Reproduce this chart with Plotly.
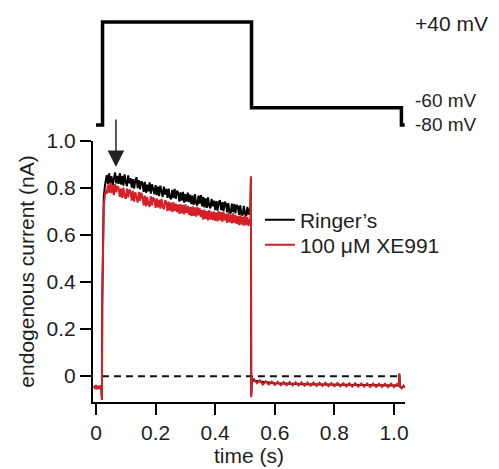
import numpy as np
import plotly.graph_objects as go

# ---------------- data ----------------
# pre-step baseline and onset (s, nA)
pre_t = [-0.006, -0.003, 0.0, 0.003, 0.006, 0.009, 0.012, 0.015, 0.018]
pre_red = [-0.040, -0.055, -0.038, -0.056, -0.042, -0.054, -0.040, -0.052, -0.045]
pre_black = [-0.042, -0.052, -0.040, -0.054, -0.044, -0.052, -0.042, -0.050, -0.046]

rise_t = [0.020, 0.021, 0.023, 0.026, 0.030, 0.033]
rise_red = [-0.100, 0.300, 0.600, 0.720, 0.770, 0.790]
rise_black = [-0.100, 0.320, 0.630, 0.760, 0.810, 0.830]

# plateau during +40 mV step, sampled every 4 ms from 0.036 s
plateau_t = np.round(np.linspace(0.036, 0.516, 121), 4)
plateau_black = [
    0.855, 0.818, 0.862, 0.822, 0.850, 0.812, 0.846, 0.866, 0.820, 0.852,
    0.818, 0.864, 0.815, 0.852, 0.810, 0.858, 0.826, 0.808, 0.854, 0.820,
    0.842, 0.802, 0.838, 0.798, 0.832, 0.846, 0.800, 0.834, 0.794, 0.828,
    0.822, 0.784, 0.826, 0.780, 0.814, 0.786, 0.824, 0.776, 0.816, 0.790,
    0.774, 0.812, 0.770, 0.806, 0.766, 0.810, 0.776, 0.762, 0.806, 0.772,
    0.796, 0.758, 0.798, 0.760, 0.752, 0.792, 0.758, 0.796, 0.754, 0.788,
    0.780, 0.742, 0.782, 0.746, 0.784, 0.738, 0.774, 0.742, 0.780, 0.740,
    0.772, 0.732, 0.768, 0.728, 0.774, 0.736, 0.726, 0.768, 0.734, 0.770,
    0.722, 0.762, 0.718, 0.756, 0.716, 0.760, 0.724, 0.714, 0.754, 0.722,
    0.746, 0.706, 0.744, 0.704, 0.740, 0.748, 0.706, 0.740, 0.702, 0.742,
    0.734, 0.696, 0.736, 0.698, 0.692, 0.734, 0.698, 0.732, 0.692, 0.728,
    0.722, 0.686, 0.726, 0.688, 0.684, 0.724, 0.690, 0.680, 0.720, 0.686,
    0.712,
]
plateau_red = [
    0.775, 0.815, 0.780, 0.822, 0.778, 0.812, 0.770, 0.818, 0.782, 0.808,
    0.800, 0.762, 0.798, 0.758, 0.802, 0.764, 0.754, 0.798, 0.760, 0.794,
    0.784, 0.746, 0.788, 0.742, 0.782, 0.750, 0.738, 0.784, 0.746, 0.780,
    0.764, 0.726, 0.768, 0.722, 0.762, 0.730, 0.720, 0.766, 0.726, 0.760,
    0.752, 0.716, 0.756, 0.718, 0.750, 0.712, 0.754, 0.720, 0.710, 0.748,
    0.740, 0.702, 0.742, 0.704, 0.738, 0.698, 0.740, 0.702, 0.734, 0.698,
    0.730, 0.690, 0.732, 0.692, 0.728, 0.688, 0.730, 0.694, 0.724, 0.686,
    0.720, 0.680, 0.722, 0.682, 0.718, 0.678, 0.720, 0.684, 0.714, 0.676,
    0.706, 0.666, 0.708, 0.668, 0.702, 0.662, 0.706, 0.666, 0.700, 0.664,
    0.700, 0.660, 0.696, 0.658, 0.702, 0.662, 0.698, 0.656, 0.700, 0.662,
    0.690, 0.652, 0.694, 0.654, 0.688, 0.650, 0.692, 0.652, 0.686, 0.648,
    0.680, 0.642, 0.684, 0.644, 0.678, 0.640, 0.682, 0.642, 0.676, 0.638,
    0.668,
]

# offset transient at end of step
off_t = [0.518, 0.520, 0.521, 0.523]
off_red = [0.660, 0.850, -0.090, -0.012]
off_black = [0.700, 0.840, -0.080, -0.012]

# -60 mV tail, sampled every 10 ms from 0.53 s
tail_t = np.round(np.linspace(0.53, 1.01, 49), 3)
tail_red = [
    -0.012, -0.030, -0.018, -0.036, -0.022, -0.036, -0.023, -0.038, -0.024, -0.039,
    -0.025, -0.039, -0.025, -0.040, -0.026, -0.040, -0.026, -0.041, -0.027, -0.041,
    -0.027, -0.042, -0.028, -0.042, -0.028, -0.043, -0.029, -0.043, -0.029, -0.044,
    -0.030, -0.044, -0.030, -0.045, -0.030, -0.045, -0.031, -0.045, -0.031, -0.046,
    -0.031, -0.046, -0.032, -0.046, -0.032, -0.047, -0.032, -0.047, -0.033,
]
tail_black_t = [0.53, 0.60, 0.70, 0.80, 0.90, 1.00, 1.012]
tail_black = [-0.020, -0.030, -0.034, -0.036, -0.038, -0.039, -0.040]

# end of protocol (-80 mV)
end_t = [1.016, 1.018, 1.020, 1.026, 1.032, 1.036]
end_red = [-0.040, 0.012, -0.045, -0.052, -0.040, -0.048]
end_black = [-0.040, 0.008, -0.044, -0.048, -0.044, -0.046]

zero_t = [0.020, 1.015]
zero_v = [0.0, 0.0]

# voltage protocol (s, mV)
prot_t = [0.0, 0.022, 0.022, 0.522, 0.522, 1.025, 1.025, 1.036]
prot_v = [-80, -80, 40, 40, -60, -60, -80, -80]
prot_labels = ["+40 mV", "-60 mV", "-80 mV"]
prot_label_v = [40, -60, -80]

y_ticks = [0, 0.2, 0.4, 0.6, 0.8, 1.0]
y_ticktext = ["0", "0.2", "0.4", "0.6", "0.8", "1.0"]
x_ticks = [0, 0.2, 0.4, 0.6, 0.8, 1.0]
x_ticktext = ["0", "0.2", "0.4", "0.6", "0.8", "1.0"]

arrow_t, arrow_y = 0.067, 0.889

# ---------------- build ----------------
black_t = list(pre_t) + rise_t + list(plateau_t) + off_t + tail_black_t + end_t
black_y = pre_black + rise_black + plateau_black + off_black + tail_black + end_black
red_t = list(pre_t) + rise_t + list(plateau_t) + off_t + list(tail_t) + end_t
red_y = pre_red + rise_red + plateau_red + off_red + tail_red + end_red

FONT = "Liberation Sans, Arial, sans-serif"
TXT = "#1e1e1e"
RED = "#d42027"

fig = go.Figure()
fig.add_trace(go.Scatter(x=zero_t, y=zero_v, mode="lines", showlegend=False,
                         line=dict(color="#111", width=2, dash="7px,5px"), hoverinfo="skip"))
fig.add_trace(go.Scatter(x=black_t, y=black_y, mode="lines", name="Ringer’s",
                         legend="legend", line=dict(color="#000000", width=2)))
fig.add_trace(go.Scatter(x=red_t, y=red_y, mode="lines", name="100 μM XE991",
                         legend="legend2", line=dict(color=RED, width=2)))
fig.add_trace(go.Scatter(x=prot_t, y=prot_v, yaxis="y2", mode="lines", showlegend=False,
                         line=dict(color="#000000", width=3.5), hoverinfo="skip"))

shifts = [-2, 7, 1]
sizes = [21, 19, 19]
for lab, v, s, fs in zip(prot_labels, prot_label_v, shifts, sizes):
    fig.add_annotation(x=1.0256, xref="paper", y=v, yref="y2", text=lab, showarrow=False,
                       xanchor="left", yanchor="middle", yshift=s,
                       font=dict(size=fs, color=TXT, family=FONT))

fig.add_annotation(x=arrow_t, y=arrow_y, xref="x", yref="y", ax=0, ay=-49,
                   showarrow=True, arrowhead=2, arrowsize=2.2, arrowwidth=1.5,
                   arrowcolor="#222", text="")

leg_common = dict(xanchor="left", yanchor="middle", bgcolor="rgba(0,0,0,0)",
                  font=dict(size=21, color=TXT, family=FONT))

fig.update_layout(
    width=499, height=469,
    margin=dict(l=93, r=94, t=15, b=67),
    paper_bgcolor="white", plot_bgcolor="white",
    font=dict(family=FONT, size=21, color=TXT),
    showlegend=True,
    legend=dict(x=0.535, y=0.4703, **leg_common),
    legend2=dict(x=0.535, y=0.4057, **leg_common),
    xaxis=dict(range=[-0.01, 1.037], showgrid=False, zeroline=False, automargin=False,
               showline=True, linecolor="black", linewidth=2,
               ticks="outside", ticklen=11, tickwidth=2, tickcolor="black",
               tickvals=x_ticks, ticktext=x_ticktext, anchor="y",
               title=dict(text="time (s)", standoff=4, font=dict(size=21))),
    yaxis=dict(range=[-0.11, 1.0], domain=[0, 0.6744], showgrid=False, zeroline=False,
               automargin=False,
               showline=True, linecolor="black", linewidth=2,
               ticks="outside", ticklen=11, tickwidth=2, tickcolor="black",
               tickvals=y_ticks, ticktext=y_ticktext, anchor="x",
               title=dict(text="endogenous current (nA)", standoff=6, font=dict(size=21))),
    yaxis2=dict(range=[-82.3, 42.3], domain=[0.7106, 0.9871], visible=False, anchor="x"),
)

fig.write_html("out.html", config={"displayModeBar": False},
               post_script="document.body.style.margin='0px';")
